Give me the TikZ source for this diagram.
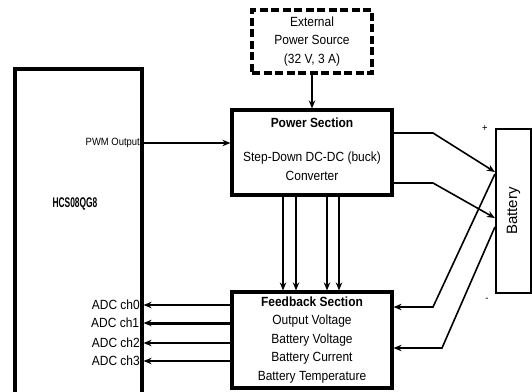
\documentclass[tikz,border=0pt]{standalone}
\usepackage{fontspec}
\setmainfont{Liberation Sans}[FakeStretch=0.9]
\newfontfamily\batfont{Liberation Sans}
\usetikzlibrary{arrows.meta}

\tikzset{
  blk/.style={draw, line width=3.2pt, align=center, inner sep=0pt},
  txt/.style={font=\fontsize{13.3}{18.5}\selectfont, align=center},
  small/.style={font=\fontsize{10.5}{11}\selectfont},
}

\begin{document}
\begin{tikzpicture}[x=1pt, y=-1pt, >={Stealth[length=8pt,width=6.5pt]}, line width=1.6pt]
\clip (0,0) rectangle (532,391);
% blocks
\node[blk, minimum width=127pt, minimum height=350pt] (mcu) at (78.5,244) {};
\node[blk, dash pattern=on 8pt off 3.5pt, minimum width=120pt, minimum height=63pt, txt]
    (ext) at (312,41.5) {External\\Power Source\\(32 V, 3 A)};
\node[blk, minimum width=160pt, minimum height=85pt] (power) at (312,152.5) {};
\node[blk, minimum width=160pt, minimum height=96pt, txt]
    (fb) at (312,340) {\textbf{Feedback Section}\\Output Voltage\\Battery Voltage\\Battery Current\\Battery Temperature};
\node[blk, line width=2.2pt, minimum width=35pt, minimum height=164pt] (bat) at (513.5,211) {};

% texts
\node[txt] (ptitle) at (312,123) {\textbf{Power Section}};
\node[txt] (pbody) at (312,166) {Step-Down DC-DC (buck)\\Converter};
\node[rotate=90, font=\batfont\fontsize{15}{15}\selectfont] (batlbl) at (bat) {Battery};
\node[font=\batfont\bfseries\fontsize{14}{14}\selectfont] (chip) at (75,204) {\scalebox{0.6}[1]{HCS08QG8}};
\node[small] (plus) at (485,128) {+};
\node[small] (minus) at (487,300) {-};

% connections
\coordinate (pwm) at (0,143);
\coordinate (p1) at (433,133);
\coordinate (p2) at (433,183);
\coordinate (b1) at (0,172);
\coordinate (b2) at (0,218);
\coordinate (s1) at (0,174);
\coordinate (s2) at (0,227);
\coordinate (f1) at (433,307);
\coordinate (f2) at (442,348);

\draw[->] (ext) -- (power);
\draw[->] (mcu.east |- pwm) -- (power.west |- pwm)
    node[pos=0, anchor=east, small, inner sep=3pt] (pwmlbl) {PWM Output};
\draw[->] (power.east |- p1) -- (p1) -- (bat.west |- b1);
\draw[->] (power.east |- p2) -- (p2) -- (bat.west |- b2);
\draw[->] (bat.west |- s1) -- (f1) -- (fb.east |- f1);
\draw[->] (bat.west |- s2) -- (f2) -- (fb.east |- f2);

\foreach \x in {283,296,327,339}{
    \draw[->] (power.south -| \x,0) -- (fb.north -| \x,0);
}
\foreach \y/\n/\w in {305/0/1.6, 323/1/3, 343/2/1.6, 361/3/1.6}{
    \draw[->, line width=\w pt] (fb.west |- 0,\y) -- (mcu.east |- 0,\y)
        node[anchor=east, txt, inner sep=3pt] (adc\n) {ADC ch\n};
}
\end{tikzpicture}
\end{document}
